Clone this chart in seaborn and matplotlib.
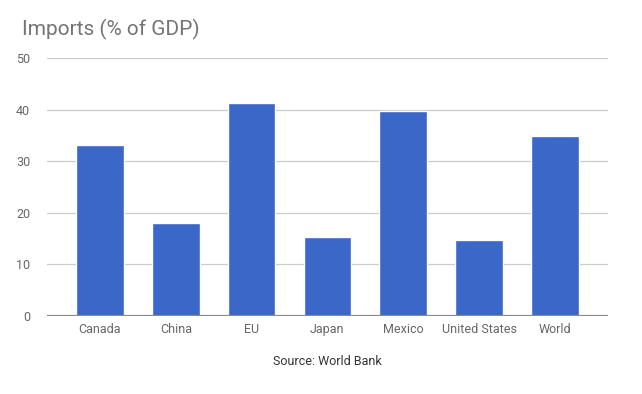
import matplotlib
matplotlib.use("Agg")
import matplotlib.pyplot as plt
import seaborn as sns
import pandas as pd

# Chart data
countries = ["Canada", "China", "EU", "Japan", "Mexico", "United States", "World"]
imports_pct = [33.2, 18.1, 41.3, 15.3, 39.7, 14.7, 34.9]
y_ticks = [0, 10, 20, 30, 40, 50]

sns.set_theme(style="white")
plt.rcParams["font.family"] = ["Roboto", "DejaVu Sans"]

df = pd.DataFrame({"country": countries, "value": imports_pct})

fig = plt.figure(figsize=(6.42, 3.94), dpi=100)
ax = fig.add_axes([0.073, 0.198, 0.874, 0.655])

sns.barplot(data=df, x="country", y="value", color="#3a67c8", width=0.63,
            saturation=1, ax=ax, zorder=3)

ax.set_xlim(-0.7, 6.7)
ax.set_ylim(0, 50)
ax.set_yticks(y_ticks)
ax.yaxis.grid(True, color="#cccccc", linewidth=0.9, zorder=0)
ax.axhline(0, color="#8a8a8a", linewidth=1.6, zorder=4)
for side in ["top", "right", "left", "bottom"]:
    ax.spines[side].set_visible(False)

ax.tick_params(axis="both", length=0, labelsize=9, labelcolor="#666666")
ax.tick_params(axis="y", pad=12)
ax.tick_params(axis="x", pad=5)
ax.set_ylabel("")
ax.set_xlabel("Source: World Bank", fontsize=9, color="#333333", labelpad=14)

fig.text(0.034, 0.925, "Imports (% of GDP)", fontsize=15, color="#757575",
         ha="left", va="center")

fig.savefig("out.png", dpi=100, facecolor="white")
